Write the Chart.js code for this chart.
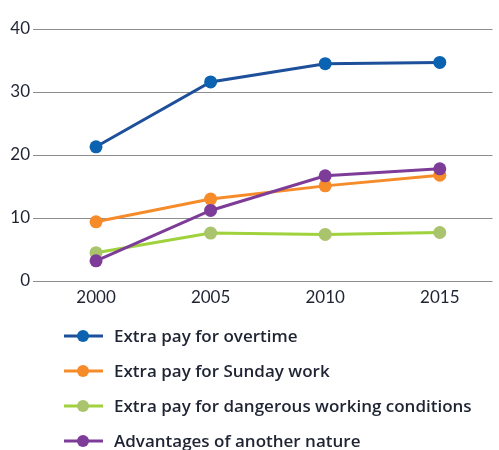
<!DOCTYPE html>
<html>
<head>
<meta charset="utf-8">
<script src="https://cdn.jsdelivr.net/npm/chart.js@4.4.1/dist/chart.umd.min.js"></script>
<style>
html,body{margin:0;padding:0;background:#fff;}
#wrap{width:499px;height:450px;}
</style>
</head>
<body>
<div id="wrap"><canvas id="chart" width="499" height="450"></canvas></div>
<script>
const years=[2000,2005,2010,2015];
const yTicks=[0,10,20,30,40];
const labels=["Extra pay for overtime","Extra pay for Sunday work","Extra pay for dangerous working conditions","Advantages of another nature"];
const overtime=[21.3,31.6,34.5,34.7];
const sunday=[9.4,13.0,15.1,16.8];
const dangerous=[4.5,7.6,7.4,7.7];
const other=[3.2,11.2,16.7,17.8];
const lineColors=["#1d4f9a","#f68b2a","#9fd23c","#7d3c98"];
const pointColors=["#0b62b0","#f68b2a","#a9c46c","#7d3c98"];

const FONT="Lato, 'Open Sans', sans-serif";
const LEGEND_FONT="'Open Sans', sans-serif";
const TEXT="#1f2433";

const series=[overtime,sunday,dangerous,other];

// legend drawn below the plot: line + dot, one item per row
const lineLegend={
  id:"lineLegend",
  afterDraw(chart){
    const ctx=chart.ctx;
    ctx.save();
    chart.data.datasets.forEach((ds,i)=>{
      const y=336+i*35;
      ctx.strokeStyle=ds.borderColor;
      ctx.lineWidth=3;
      ctx.beginPath();ctx.moveTo(64,y);ctx.lineTo(103,y);ctx.stroke();
      ctx.fillStyle=ds.pointBackgroundColor;
      ctx.beginPath();ctx.arc(83,y,6,0,Math.PI*2);ctx.fill();
      ctx.fillStyle=TEXT;
      ctx.font="600 17px "+LEGEND_FONT;
      ctx.textBaseline="middle";
      ctx.fillText(ds.label,114,y+1);
    });
    ctx.restore();
  }
};

new Chart(document.getElementById("chart"),{
  type:"line",
  data:{
    datasets:series.map((s,i)=>({
      label:labels[i],
      data:s.map((v,j)=>({x:years[j],y:v})),
      borderColor:lineColors[i],
      backgroundColor:pointColors[i],
      pointBackgroundColor:pointColors[i],
      pointBorderWidth:0,
      pointRadius:6.5,
      borderWidth:3,
      order:[2,3,4,1][i]
    }))
  },
  options:{
    responsive:false,
    animation:false,
    layout:{padding:{top:29,right:0,left:0,bottom:144}},
    plugins:{legend:{display:false},tooltip:{enabled:false}},
    scales:{
      x:{
        type:"linear",
        min:1997.25,max:2017.3,
        afterBuildTicks:s=>{s.ticks=years.map(v=>({value:v}));},
        afterFit:s=>{s.height=25;},
        grid:{display:false,drawTicks:false},
        border:{display:false},
        ticks:{padding:6,color:TEXT,font:{family:FONT,size:17},callback:v=>String(v)}
      },
      y:{
        min:0,max:40,
        afterBuildTicks:s=>{s.ticks=yTicks.map(v=>({value:v}));},
        afterFit:s=>{s.width=33;},
        grid:{color:"#8e8e8e",lineWidth:1,drawTicks:false},
        border:{display:false},
        ticks:{padding:3,color:TEXT,font:{family:FONT,size:17}}
      }
    }
  },
  plugins:[lineLegend]
});
</script>
</body>
</html>
